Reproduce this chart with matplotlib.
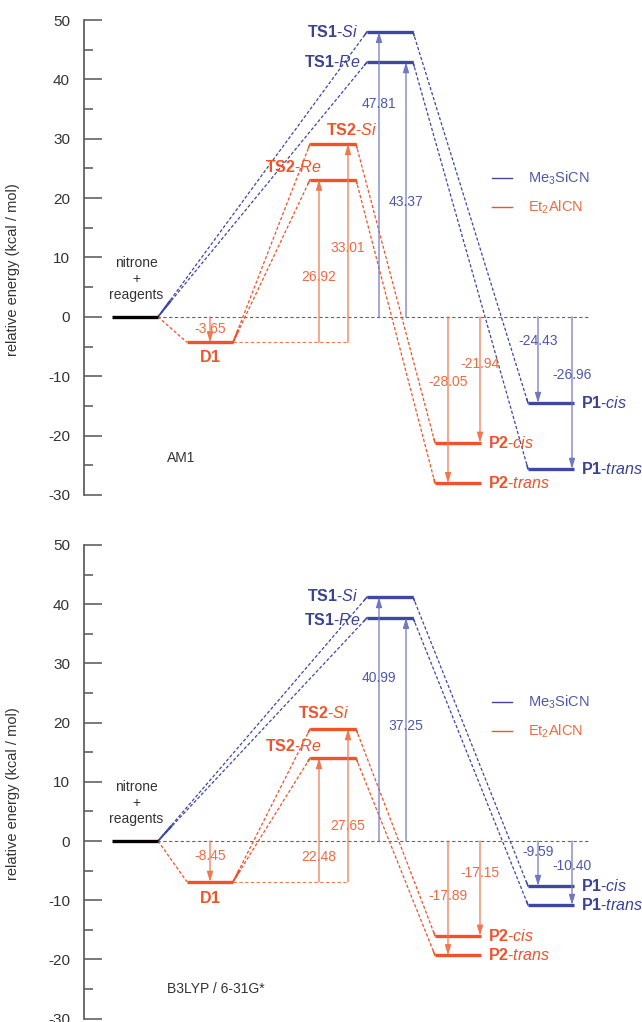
import matplotlib
matplotlib.use("Agg")
import matplotlib.pyplot as plt
import numpy as np

plt.rcParams['font.family'] = ['Liberation Sans', 'DejaVu Sans']
plt.rcParams['mathtext.fontset'] = 'custom'
plt.rcParams['mathtext.rm'] = 'Liberation Sans'
plt.rcParams['mathtext.it'] = 'Liberation Sans:italic'
plt.rcParams['mathtext.bf'] = 'Liberation Sans:bold'
plt.rcParams['axes.unicode_minus'] = False

# --- datos: niveles de energia (kcal/mol) ---
states = ['R', 'D1', 'TS2-Re', 'TS2-Si', 'TS1-Re', 'TS1-Si',
          'P2-cis', 'P2-trans', 'P1-cis', 'P1-trans']
e_am1 = [0, -4.3, 23.1, 29.1, 42.9, 48.0, -21.2, -28.0, -14.5, -25.6]
e_b3lyp = [0, -6.9, 14.0, 18.9, 37.7, 41.2, -16.0, -19.3, -7.6, -10.8]

# flechas: desde / hasta, y el valor escrito junto a cada una
arrow_from = ['R', 'D1', 'D1', 'R', 'R', 'R', 'R', 'R', 'R']
arrow_to = ['D1', 'TS2-Re', 'TS2-Si', 'TS1-Si', 'TS1-Re',
            'P2-trans', 'P2-cis', 'P1-cis', 'P1-trans']
lab_am1 = ['-3.65', '26.92', '33.01', '47.81', '43.37',
           '-28.05', '-21.94', '-24.43', '-26.96']
lab_b3lyp = ['-8.45', '22.48', '27.65', '40.99', '37.25',
             '-17.89', '-17.15', '-9.59', '-10.40']

methods = ['AM1', 'B3LYP / 6-31G*']
legend_names = ['Me$_3$SiCN', 'Et$_2$AlCN']

# --- estilo / posiciones ---
BLUE = '#3e47a3'
BLUE_T = '#5058ab'
BLUE_A = '#7078c2'
ORANGE = '#f0522a'
ORANGE_T = '#f06a42'
ORANGE_A = '#f2774f'
GRAY = '#555555'

col = {'R': 112, 'D1': 187, 'TS2': 310, 'TS1': 367, 'P2': 435, 'P1': 528}
W = 46
arrow_x = [210, 319, 348, 379, 406, 448, 480, 538, 572]
laby = [[-2.0, 6.7, 11.6, 35.9, 19.4, -10.9, -7.9, -4.0, -9.8],
        [-2.5, -2.7, 2.5, 27.5, 19.4, -9.3, -5.4, -1.9, -4.2]]
name_pos = [
    {'D1': (210, -6.7, 'center'), 'TS2-Re': (322, 25.3, 'right'),
     'TS2-Si': (352, 31.4, 'center'), 'TS1-Re': (361, 42.9, 'right'),
     'TS1-Si': (358, 48.0, 'right')},
    {'D1': (210, -9.6, 'center'), 'TS2-Re': (322, 16.0, 'right'),
     'TS2-Si': (324, 21.7, 'center'), 'TS1-Re': (361, 37.4, 'right'),
     'TS1-Si': (358, 41.4, 'right')},
]
method_y = [-23.7, -25.0]
ax_rects = [[84 / 642, 1 - 495 / 1022, 558 / 642, 475 / 1022],
            [84 / 642, 1 - 1018.6 / 1022, 558 / 642, 473.6 / 1022]]

# conexiones (desde lado derecho, hasta lado izquierdo, tramo solido px)
conns = [('R', 'TS1-Si', 20, 4), ('R', 'TS1-Re', 20, 4),
         ('TS1-Si', 'P1-cis', 4, 4), ('TS1-Re', 'P1-trans', 4, 4),
         ('R', 'D1', 0, 0), ('D1', 'TS2-Re', 13, 4), ('D1', 'TS2-Si', 13, 4),
         ('TS2-Si', 'P2-cis', 4, 4), ('TS2-Re', 'P2-trans', 4, 4)]


def color_of(s):
    c = s.split('-')[0]
    if c == 'R':
        return 'black'
    return BLUE if c in ('TS1', 'P1') else ORANGE


def label_of(s):
    if '-' in s:
        a, b = s.split('-')
        return r'$\mathbf{%s}$-$\mathit{%s}$' % (a, b)
    return r'$\mathbf{%s}$' % s


def connect(ax, p, q, c, la, lb):
    ax.plot([p[0], q[0]], [p[1], q[1]], color=c, lw=0.9, dashes=(2.6, 1.6))
    P = ax.transData.transform(p)
    Q = ax.transData.transform(q)
    u = (Q - P) / np.hypot(*(Q - P))
    inv = ax.transData.inverted()
    if la:
        a2 = inv.transform(P + u * la)
        ax.plot([p[0], a2[0]], [p[1], a2[1]], color=c, lw=1.1)
    if lb:
        b2 = inv.transform(Q - u * lb)
        ax.plot([q[0], b2[0]], [q[1], b2[1]], color=c, lw=1.1)


fig = plt.figure(figsize=(6.42, 10.22), dpi=100)

for k, (energies, labels) in enumerate([(e_am1, lab_am1), (e_b3lyp, lab_b3lyp)]):
    ax = fig.add_axes(ax_rects[k])
    ax.set_xlim(84, 642)
    ax.set_ylim(-30, 50)
    ax.set_autoscale_on(False)
    for s in ['top', 'right', 'bottom']:
        ax.spines[s].set_visible(False)
    ax.spines['left'].set_color(GRAY)
    ax.spines['left'].set_linewidth(1.2)
    ax.set_xticks([])
    ax.set_yticks(np.arange(-30, 51, 10))
    ax.set_yticks(np.arange(-25, 50, 10), minor=True)
    ax.tick_params(axis='y', which='major', direction='in', length=13, width=1.1,
                   color=GRAY, labelsize=11, labelcolor='#333333', pad=10)
    ax.tick_params(axis='y', which='minor', direction='in', length=6.5, width=1.1,
                   color=GRAY)
    ax.set_ylabel('relative energy (kcal / mol)', fontsize=10.5, color='#333333')
    ax.yaxis.set_label_coords(-0.115, 0.475)

    E = dict(zip(states, energies))
    x0 = {s: col[s.split('-')[0]] for s in states}

    # linea de cero
    ax.plot([x0['R'] + W - 1, 590], [0, 0], color='#666666', lw=0.8, dashes=(3, 2.2))
    # extension del nivel D1
    ax.plot([x0['D1'] + W, arrow_x[2]], [E['D1'], E['D1']], color=ORANGE_A,
            lw=0.8, dashes=(3, 2.2))

    for a, b, la, lb in conns:
        c = BLUE if color_of(b) == BLUE else ORANGE
        connect(ax, (x0[a] + W, E[a]), (x0[b], E[b]), c, la, lb)

    # flechas
    for i in range(len(arrow_x)):
        c = BLUE_A if color_of(arrow_to[i]) == BLUE else ORANGE_A
        tc = BLUE_T if color_of(arrow_to[i]) == BLUE else ORANGE_T
        ax.annotate('', xy=(arrow_x[i], E[arrow_to[i]]),
                    xytext=(arrow_x[i], E[arrow_from[i]]),
                    arrowprops=dict(arrowstyle='-|>,head_length=0.6,head_width=0.18',
                                    color=c, lw=0.9, shrinkA=0, shrinkB=0,
                                    mutation_scale=10))
        ax.text(arrow_x[i], laby[k][i], labels[i], ha='center', va='center',
                fontsize=10, color=tc)

    # niveles
    for s in states:
        ax.plot([x0[s], x0[s] + W], [E[s], E[s]], color=color_of(s), lw=2.4,
                solid_capstyle='butt')
        if s == 'R':
            continue
        tc = '#3a4296' if color_of(s) == BLUE else ORANGE
        if s in name_pos[k]:
            x, y, ha = name_pos[k][s]
        else:
            x, y, ha = x0[s] + W + 7, E[s], 'left'
        ax.text(x, y, label_of(s), ha=ha, va='center', fontsize=11.5, color=tc)

    ax.text(136, 6.4, 'nitrone\n+\nreagents', ha='center', va='center',
            fontsize=10, color='#333333', linespacing=1.15)
    ax.text(167, method_y[k], methods[k], ha='left', va='center', fontsize=10,
            color='#333333')

    # leyenda
    for j, (c, tc) in enumerate([(BLUE, BLUE_T), (ORANGE, ORANGE_T)]):
        y = 23.4 - 4.9 * j
        ax.plot([492, 512], [y, y], color=c, lw=1.0)
        ax.text(528, y, legend_names[j], ha='left', va='center', fontsize=10.5, color=tc)

fig.savefig('out.png', dpi=100)
